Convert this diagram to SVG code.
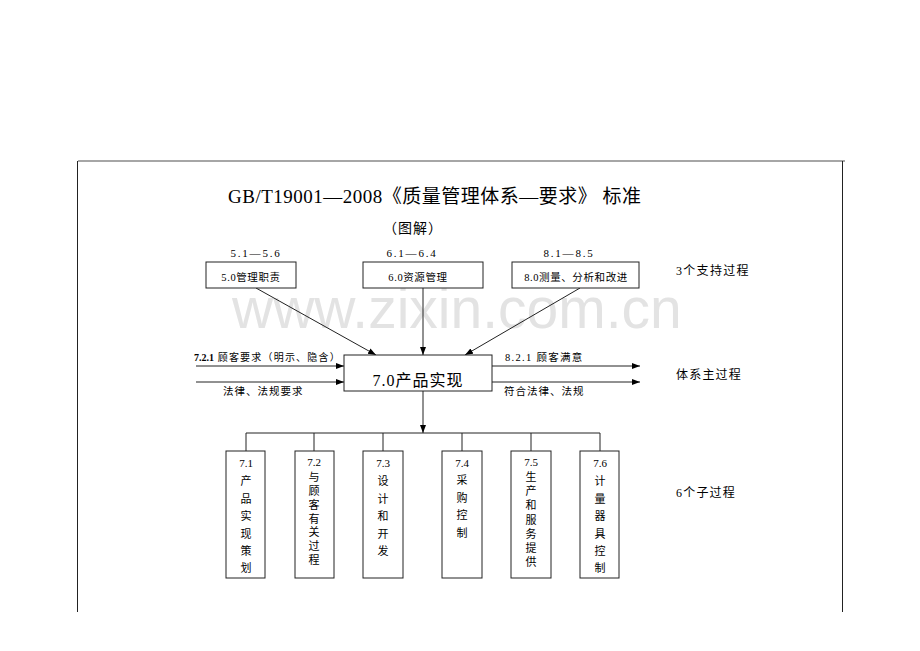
<svg xmlns="http://www.w3.org/2000/svg" width="920" height="651" viewBox="0 0 920 651">
<defs>
<marker id="arr" markerUnits="userSpaceOnUse" markerWidth="9" markerHeight="7" refX="8" refY="3" orient="auto">
<path d="M0,0 L8,3 L0,6 z" fill="#000"/>
</marker>
<style>
.t{font-family:"Liberation Serif","Noto Sans CJK SC",serif;fill:#000}
.s{font-size:11px}
.bt{font-size:10.5px;letter-spacing:0.6px;text-anchor:middle}
.nm{font-size:11px;letter-spacing:1.8px;text-anchor:middle}
.box{fill:#fff;stroke:#222;stroke-width:1}
.ln{stroke:#222;stroke-width:1;fill:none}
.ar{stroke:#222;stroke-width:1;fill:none;marker-end:url(#arr)}
.c{text-anchor:middle}
</style>
</defs>
<rect width="920" height="651" fill="#fff"/>
<text x="232" y="328" style="font-family:'Liberation Sans',sans-serif;font-size:57px;fill:#e3e3e3">www.zixin.com.cn</text>
<g id="page">
<line x1="78" y1="161" x2="845" y2="161" stroke="#888" stroke-width="1.6"/>
<line x1="77.5" y1="161" x2="77.5" y2="612" class="ln"/>
<line x1="842.5" y1="161" x2="842.5" y2="612" class="ln"/>
</g>
<g id="title">
<text class="t" x="228" y="203" style="font-size:19px;letter-spacing:0.5px">GB/T19001—2008《质量管理体系—要求》 标准</text>
<text class="t" x="383" y="233" style="font-size:14px;letter-spacing:1px">（图解）</text>
</g>
<g id="connectors">
<line class="ar" x1="256" y1="288" x2="376" y2="355"/>
<line class="ar" x1="423" y1="288" x2="423" y2="355"/>
<line class="ar" x1="580" y1="288" x2="465" y2="355"/>
<line class="ar" x1="196" y1="366" x2="344" y2="366"/>
<line class="ar" x1="196" y1="382" x2="344" y2="382"/>
<line class="ar" x1="492" y1="366" x2="640" y2="366"/>
<line class="ar" x1="492" y1="382" x2="640" y2="382"/>
<line class="ar" x1="423" y1="391" x2="423" y2="433"/>
<line class="ln" x1="246" y1="433" x2="600" y2="433"/>
<line class="ln" x1="246" y1="433" x2="246" y2="451"/>
<line class="ln" x1="314" y1="433" x2="314" y2="451"/>
<line class="ln" x1="383" y1="433" x2="383" y2="451"/>
<line class="ln" x1="462" y1="433" x2="462" y2="451"/>
<line class="ln" x1="531" y1="433" x2="531" y2="451"/>
<line class="ln" x1="600" y1="433" x2="600" y2="451"/>
</g>
<g id="n50">
<text class="t nm" x="256" y="257">5.1—5.6</text>
<rect class="box" x="206" y="262" width="90" height="26"/>
<text class="t bt" x="251" y="281">5.0管理职责</text>
</g>
<g id="n60">
<text class="t nm" x="412" y="257">6.1—6.4</text>
<rect class="box" x="363" y="262" width="120" height="26"/>
<text class="t bt" x="418" y="281">6.0资源管理</text>
</g>
<g id="n80">
<text class="t nm" x="569" y="257">8.1—8.5</text>
<rect class="box" x="512" y="262" width="127" height="26"/>
<text class="t bt" x="576" y="281">8.0测量、分析和改进</text>
</g>
<g id="n70">
<rect class="box" x="344" y="355" width="148" height="36"/>
<text class="t c" x="418" y="386" style="font-size:16px;letter-spacing:1px">7.0产品实现</text>
</g>
<g id="labels">
<text class="t" x="194" y="361" style="font-size:10px;letter-spacing:1.2px"><tspan font-weight="bold" style="letter-spacing:0">7.2.1</tspan> 顾客要求（明示、隐含）</text>
<text class="t" x="223" y="395" style="font-size:10.5px;letter-spacing:1px">法律、法规要求</text>
<text class="t" x="505" y="361" style="font-size:10.5px;letter-spacing:1.3px">8.2.1 顾客满意</text>
<text class="t" x="504" y="395" style="font-size:10.5px;letter-spacing:1px">符合法律、法规</text>
<text class="t" x="676" y="275" style="font-size:12px;letter-spacing:1.3px">3个支持过程</text>
<text class="t" x="676" y="379" style="font-size:12px;letter-spacing:1.2px">体系主过程</text>
<text class="t" x="676" y="497" style="font-size:12px;letter-spacing:1.2px">6个子过程</text>
</g>
<g id="n71">
<rect class="box" x="226" y="451" width="39" height="127"/>
<text class="t s c"><tspan x="246" y="467">7.1</tspan><tspan x="246" y="485">产</tspan><tspan x="246" y="503">品</tspan><tspan x="246" y="520">实</tspan><tspan x="246" y="538">现</tspan><tspan x="246" y="555">策</tspan><tspan x="246" y="572">划</tspan></text>
</g>
<g id="n72">
<rect class="box" x="295" y="451" width="39" height="127"/>
<text class="t s c"><tspan x="314" y="466">7.2</tspan><tspan x="314" y="481">与</tspan><tspan x="314" y="495">顾</tspan><tspan x="314" y="509">客</tspan><tspan x="314" y="523">有</tspan><tspan x="314" y="536">关</tspan><tspan x="314" y="550">过</tspan><tspan x="314" y="564">程</tspan></text>
</g>
<g id="n73">
<rect class="box" x="363" y="451" width="40" height="127"/>
<text class="t s c"><tspan x="383" y="467">7.3</tspan><tspan x="383" y="485">设</tspan><tspan x="383" y="503">计</tspan><tspan x="383" y="520">和</tspan><tspan x="383" y="538">开</tspan><tspan x="383" y="555">发</tspan></text>
</g>
<g id="n74">
<rect class="box" x="442" y="451" width="40" height="127"/>
<text class="t s c"><tspan x="462" y="467">7.4</tspan><tspan x="462" y="484">采</tspan><tspan x="462" y="502">购</tspan><tspan x="462" y="519">控</tspan><tspan x="462" y="537">制</tspan></text>
</g>
<g id="n75">
<rect class="box" x="511" y="451" width="40" height="127"/>
<text class="t s c"><tspan x="531" y="466">7.5</tspan><tspan x="531" y="481">生</tspan><tspan x="531" y="495">产</tspan><tspan x="531" y="509">和</tspan><tspan x="531" y="524">服</tspan><tspan x="531" y="538">务</tspan><tspan x="531" y="552">提</tspan><tspan x="531" y="566">供</tspan></text>
</g>
<g id="n76">
<rect class="box" x="580" y="451" width="39" height="127"/>
<text class="t s c"><tspan x="600" y="467">7.6</tspan><tspan x="600" y="485">计</tspan><tspan x="600" y="503">量</tspan><tspan x="600" y="520">器</tspan><tspan x="600" y="538">具</tspan><tspan x="600" y="555">控</tspan><tspan x="600" y="572">制</tspan></text>
</g>
</svg>
